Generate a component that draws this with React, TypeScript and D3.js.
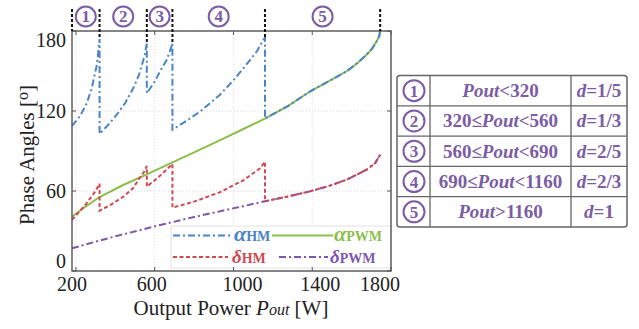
import React from "react";
import * as d3 from "d3";

// ---------- data ----------
const xTicks = [200, 600, 1000, 1400, 1800];
const yTicks = [0, 60, 120, 180];
const boundaries = [180, 320, 560, 690, 1160, 1745];
const regionLabels = ["1", "2", "3", "4", "5"];
const conditions = ["Pout<320", "320≤Pout<560", "560≤Pout<690", "690≤Pout<1160", "Pout>1160"];
const duties = ["1/5", "1/3", "2/5", "2/3", "1"];

// alpha_HM (with jumps at the region boundaries)
const alphaHM_P = [180, 220, 255, 280, 304, 312, 320, 320, 360, 406, 450, 491, 520, 542, 552, 560,
  560, 600, 626, 660, 680, 690, 690, 760, 830, 930, 1000, 1083, 1120, 1150, 1160,
  1160, 1280, 1390, 1480, 1575, 1630, 1676, 1705, 1727, 1740, 1745];
const alphaHM_V = [108.8, 116, 125.8, 137, 153, 162, 174, 102.8, 109, 117, 126, 137, 147, 158, 164, 171,
  133.3, 142, 149.5, 158, 166, 171, 106, 112.5, 119.5, 132, 143, 158, 165, 173, 175,
  114.3, 124, 134.8, 142, 149.8, 156, 162.2, 167, 172.3, 176, 180];

// alpha_PWM
const alphaPWM_P = [180, 250, 320, 440, 560, 690, 800, 930, 1050, 1160, 1280, 1390, 1480, 1575, 1630, 1676, 1705, 1727, 1740, 1745];
const alphaPWM_V = [40.7, 48.5, 55.5, 64.5, 72.5, 81.5, 89, 98, 106.5, 114.3, 124, 134.8, 142, 149.8, 156, 162.2, 167, 172.3, 176, 180];

// delta_HM
const deltaHM_P = [180, 250, 300, 320, 320, 380, 440, 490, 520, 545, 560, 560, 620, 690, 690, 800, 930, 1050, 1135, 1160,
  1160, 1280, 1390, 1490, 1575, 1677, 1720, 1745];
const deltaHM_V = [38.3, 50, 60, 65.5, 45.2, 50, 55.7, 62, 69, 74, 78.8, 63.2, 70.5, 80.3, 47.5, 52, 59, 68, 77, 82,
  52.3, 56, 59.8, 64, 68.5, 76, 81, 87.2];

// delta_PWM
const deltaPWM_P = [180, 300, 400, 600, 800, 1000, 1160, 1280, 1390, 1490, 1575, 1677, 1720, 1745];
const deltaPWM_V = [17, 22, 26, 33.5, 40.5, 47, 52.3, 56, 59.8, 64, 68.5, 76, 81, 87.2];

// ---------- style ----------
const W = 639, H = 329;
const L = 72, R = 391, T = 31, B = 271;
const SERIF = "'Liberation Serif', 'Times New Roman', serif";
const BLUE = "#4A84C6";
const GREEN = "#8CBE4C";
const RED = "#CF4A50";
const PURPLE = "#7D57AF";
const TXTP = "#7B5CA5";
const AXIS = "#555";

const x = d3.scaleLinear().domain([180, 1800]).range([L, R]);
const y = d3.scaleLinear().domain([0, 180]).range([B, T]);
const line = d3.line<[number, number]>().x(d => x(d[0])).y(d => y(d[1]));
const zip = (a: number[], b: number[]) => a.map((p, i) => [p, b[i]] as [number, number]);

const xLabelShift = [-4, -3, 9, 8, -11];
const yLabelShift = [-10, 0, 0, 8.5];

function Circled({ cx, cy, r, label, fs }: { cx: number; cy: number; r: number; label: string; fs: number }) {
  return (
    <g>
      <circle cx={cx} cy={cy} r={r} fill="none" stroke={TXTP} strokeWidth={2} />
      <text x={cx} y={cy + fs * 0.35} textAnchor="middle" fontFamily={SERIF} fontWeight="bold" fontSize={fs} fill={TXTP}>{label}</text>
    </g>
  );
}

function Cond({ s, xc, yb }: { s: string; xc: number; yb: number }) {
  const parts = s.split("Pout");
  const nodes: React.ReactNode[] = [];
  parts.forEach((p, i) => {
    if (p) nodes.push(<tspan key={"p" + i}>{p}</tspan>);
    if (i < parts.length - 1) nodes.push(<tspan key={"i" + i} fontStyle="italic">Pout</tspan>);
  });
  return (
    <text x={xc} y={yb} textAnchor="middle" fontFamily={SERIF} fontWeight="bold" fontSize={19} fill={TXTP}>{nodes}</text>
  );
}

export default function App() {
  const peakAt = (p: number) => {
    let m = -Infinity;
    alphaHM_P.forEach((q, i) => { if (Math.abs(q - p) < 1e-6) m = Math.max(m, alphaHM_V[i]); });
    return m === -Infinity ? 180 : m;
  };
  const tableX = [397, 430, 571, 627];
  const tableTop = 75.5, rowH = 30.3;
  return (
    <svg width={W} height={H} viewBox={`0 0 ${W} ${H}`} style={{ position: "absolute", left: 0, top: 0, background: "#fff" }}>
      <rect x={0} y={0} width={W} height={H} fill="#fff" />
      {/* grid */}
      <g stroke="#d0d0d0" strokeWidth={0.8} strokeDasharray="1,2">
        {xTicks.map(t => <line key={"gx" + t} x1={x(t)} x2={x(t)} y1={T} y2={B} />)}
        {yTicks.map(t => <line key={"gy" + t} x1={L} x2={R} y1={y(t)} y2={y(t)} />)}
      </g>
      {/* series */}
      <path d={line(zip(alphaPWM_P, alphaPWM_V)) || ""} fill="none" stroke={GREEN} strokeWidth={2} />
      <path d={line(zip(deltaPWM_P, deltaPWM_V)) || ""} fill="none" stroke={PURPLE} strokeWidth={2} strokeDasharray="7,3,2,3" />
      <path d={line(zip(alphaHM_P, alphaHM_V)) || ""} fill="none" stroke={BLUE} strokeWidth={2} strokeDasharray="7,3,2,3" />
      <path d={line(zip(deltaHM_P, deltaHM_V)) || ""} fill="none" stroke={RED} strokeWidth={2} strokeDasharray="4,2.5" />
      {/* legend */}
      <g>
        <rect x={171} y={226} width={220} height={42} fill="#fff" fillOpacity={0.9} stroke="#e2e2e2" strokeWidth={1} />
        <line x1={173} x2={232} y1={235.5} y2={235.5} stroke={BLUE} strokeWidth={2} strokeDasharray="7,3,2,3" />
        <text x={234} y={240.5} fontFamily={SERIF} fill={BLUE} fontWeight="bold">
          <tspan fontStyle="italic" fontSize={22}>α</tspan><tspan fontSize={14}>HM</tspan>
        </text>
        <line x1={272} x2={333} y1={235.5} y2={235.5} stroke={GREEN} strokeWidth={2} />
        <text x={334} y={240.5} fontFamily={SERIF} fill={GREEN} fontWeight="bold">
          <tspan fontStyle="italic" fontSize={22}>α</tspan><tspan fontSize={14}>PWM</tspan>
        </text>
        <line x1={173} x2={228} y1={257} y2={257} stroke={RED} strokeWidth={2} strokeDasharray="4,2.5" />
        <text x={232} y={263} fontFamily={SERIF} fill={RED} fontWeight="bold">
          <tspan fontStyle="italic" fontSize={19}>δ</tspan><tspan fontSize={14}>HM</tspan>
        </text>
        <line x1={279} x2={328} y1={257} y2={257} stroke={PURPLE} strokeWidth={2} strokeDasharray="7,3,2,3" />
        <text x={330} y={263} fontFamily={SERIF} fill={PURPLE} fontWeight="bold">
          <tspan fontStyle="italic" fontSize={19}>δ</tspan><tspan fontSize={14}>PWM</tspan>
        </text>
      </g>
      {/* frame & ticks */}
      <rect x={L} y={T} width={R - L} height={B - T} fill="none" stroke={AXIS} strokeWidth={1.4} />
      <g stroke={AXIS} strokeWidth={1}>
        {xTicks.map(t => (
          <g key={"tx" + t}>
            <line x1={x(t)} x2={x(t)} y1={B} y2={B - 4} />
            <line x1={x(t)} x2={x(t)} y1={T} y2={T + 4} />
          </g>
        ))}
        {yTicks.map(t => (
          <g key={"ty" + t}>
            <line x1={L} x2={L + 4} y1={y(t)} y2={y(t)} />
            <line x1={R} x2={R - 4} y1={y(t)} y2={y(t)} />
          </g>
        ))}
      </g>
      {/* tick labels */}
      <g fontFamily={SERIF} fontSize={20} fill="#222">
        {xTicks.map((t, i) => (
          <text key={"lx" + t} x={x(t) + xLabelShift[i]} y={291} textAnchor="middle">{t}</text>
        ))}
        {yTicks.map((t, i) => (
          <text key={"ly" + t} x={66} y={y(t) + 7 + yLabelShift[i]} textAnchor="end">{t}</text>
        ))}
      </g>
      {/* axis titles */}
      <text x={231} y={315} textAnchor="middle" fontFamily={SERIF} fontSize={21} fill="#222">
        Output Power <tspan fontStyle="italic">P</tspan><tspan fontStyle="italic" fontSize={16}>out</tspan> [W]
      </text>
      <text transform="translate(34,155) rotate(-90)" textAnchor="middle" fontFamily={SERIF} fontSize={21} fill="#222">
        Phase Angles [<tspan fontSize={16} dy={-6}>o</tspan><tspan dy={6}>]</tspan>
      </text>
      {/* region boundaries */}
      <g stroke="#111" strokeWidth={2} strokeDasharray="3,2">
        {boundaries.map((b, i) => {
          const bottom = i === 0 || i === boundaries.length - 1 ? T : y(peakAt(b));
          return <line key={"b" + b} x1={x(b)} x2={x(b)} y1={9} y2={bottom} />;
        })}
      </g>
      {regionLabels.map((lab, i) => (
        <Circled key={"rc" + i} cx={(x(boundaries[i]) + x(boundaries[i + 1])) / 2} cy={16.5} r={10} label={lab} fs={17} />
      ))}
      {/* table */}
      <g>
        <rect x={tableX[0]} y={tableTop} width={tableX[3] - tableX[0]} height={rowH * 5} rx={3} fill="#fff" stroke="#666" strokeWidth={1.5} />
        {[1, 2, 3, 4].map(k => (
          <line key={"tr" + k} x1={tableX[0]} x2={tableX[3]} y1={tableTop + rowH * k} y2={tableTop + rowH * k} stroke="#666" strokeWidth={1.3} />
        ))}
        {[1, 2].map(k => (
          <line key={"tc" + k} x1={tableX[k]} x2={tableX[k]} y1={tableTop} y2={tableTop + rowH * 5} stroke="#666" strokeWidth={1.3} />
        ))}
        {conditions.map((c, i) => {
          const cy = tableTop + rowH * (i + 0.5);
          return (
            <g key={"row" + i}>
              <Circled cx={414} cy={cy} r={10.5} label={regionLabels[i]} fs={17} />
              <Cond s={c} xc={(tableX[1] + tableX[2]) / 2} yb={cy + 6.5} />
              <text x={(tableX[2] + tableX[3]) / 2} y={cy + 6.5} textAnchor="middle" fontFamily={SERIF} fontWeight="bold" fontSize={19} fill={TXTP}>
                <tspan fontStyle="italic">d</tspan>={duties[i]}
              </text>
            </g>
          );
        })}
      </g>
    </svg>
  );
}
